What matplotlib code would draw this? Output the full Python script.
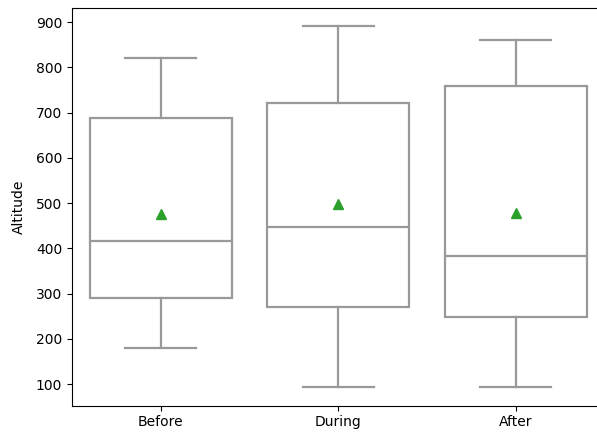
import matplotlib
matplotlib.use('Agg')
import matplotlib.pyplot as plt

# Box statistics
groups = ['Before', 'During', 'After']
whisker_low = [180, 93, 93]
q1 = [290, 270, 248]
median = [416, 447, 383]
q3 = [687, 721, 758]
whisker_high = [821, 892, 861]
means = [476, 498, 478]

stats = []
for i, name in enumerate(groups):
    stats.append({
        'label': name,
        'whislo': whisker_low[i],
        'q1': q1[i],
        'med': median[i],
        'q3': q3[i],
        'whishi': whisker_high[i],
        'mean': means[i],
        'fliers': [],
    })

fig = plt.figure(figsize=(5.97, 4.32), dpi=100)
# the right spine falls just outside the picture, as in the reference
ax = fig.add_axes([72 / 597, 26.5 / 432, 532.5 / 597, 397.5 / 432])

line_color = '#999999'
line_kw = dict(color=line_color, linewidth=1.6)
ax.bxp(stats, positions=range(len(groups)), widths=0.8, showmeans=True,
       patch_artist=True,
       boxprops=dict(facecolor='white', edgecolor=line_color, linewidth=1.6),
       medianprops=line_kw, whiskerprops=line_kw, capprops=line_kw,
       meanprops=dict(marker='^', markerfacecolor='#2ca02c',
                      markeredgecolor='#2ca02c', markersize=7))

ax.set_xlim(-0.5, 2.5)
ax.set_ylim(52.5, 931)
ax.set_yticks(range(100, 901, 100))
ax.set_ylabel('Altitude', labelpad=7)

fig.savefig('out.png', dpi=100)
